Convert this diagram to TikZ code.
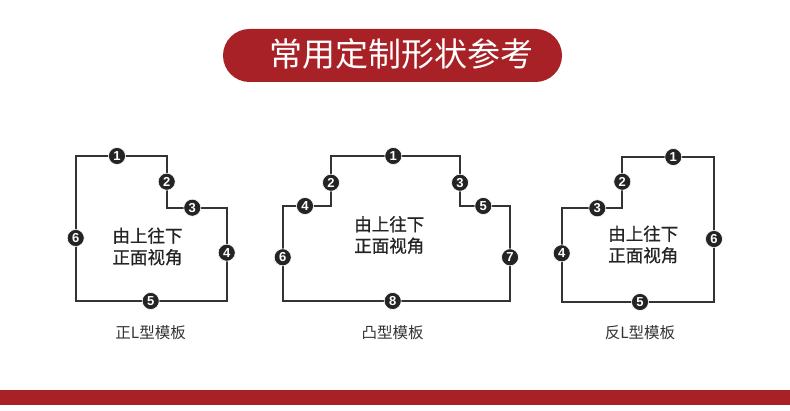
\documentclass[tikz,border=0pt]{standalone}
\usepackage{fontspec}
\newfontfamily\cjk{Noto Sans CJK SC}
\newfontfamily\cjkb[FakeBold=0.8]{Noto Sans CJK SC}
\newfontfamily\numf{Liberation Sans}
\definecolor{brand}{HTML}{A82126}
\definecolor{ink}{HTML}{242424}
\definecolor{edge}{HTML}{333333}
\begin{document}
\begin{tikzpicture}[x=1pt,y=-1pt,
  outline/.style={draw=edge,line width=2pt,line join=miter},
  num/.style={circle,fill=ink,draw=white,line width=0.6pt,minimum size=17pt,inner sep=0pt,text=white,font=\numf\bfseries\fontsize{13}{13}\selectfont},
  inner/.style={align=center,text=ink,font=\cjkb\fontsize{17.5}{21.5}\selectfont},
  caption/.style={text=edge,font=\cjk\fontsize{15.5}{16}\selectfont}]
\useasboundingbox (0,0) rectangle (790,411);
\fill[white] (0,0) rectangle (790,411);
% title
\node[fill=brand,rounded corners=26.5pt,minimum width=339pt,minimum height=53pt,inner sep=0pt] (title) at (392.5,55.5) {};
\node[text=white,font=\cjk\fontsize{33}{33}\selectfont,anchor=center] (titletext) at (401.5,54) {常用定制形状参考};
% bottom bar
\fill[brand] (0,390) rectangle (790,405);

% Shape 1: 正L
\coordinate (a1) at (75.7,156);
\coordinate (a2) at (166.7,156);
\coordinate (a3) at (166.7,207.7);
\coordinate (a4) at (226.7,207.7);
\coordinate (a5) at (226.7,301);
\coordinate (a6) at (75.7,301);
\draw[outline] (a1) -- (a2) -- (a3) -- (a4) -- (a5) -- (a6) -- cycle;
\node[num] (s1n1) at (117,156) {1};
\node[num] (s1n2) at (166.7,181.7) {2};
\node[num] (s1n3) at (192.3,207.7) {3};
\node[num] (s1n4) at (226.7,252.7) {4};
\node[num] (s1n5) at (150.7,301) {5};
\node[num] (s1n6) at (75.7,238) {6};
\node[inner] (s1t) at (147.5,246.5) {由上往下\\正面视角};
\node[caption] (s1c) at (150.7,332.7) {正L型模板};

% Shape 2: 凸
\coordinate (b1) at (282.7,206);
\coordinate (b2) at (331,206);
\coordinate (b3) at (331,156);
\coordinate (b4) at (460,156);
\coordinate (b5) at (460,206);
\coordinate (b6) at (510,206);
\coordinate (b7) at (510,301);
\coordinate (b8) at (282.7,301);
\draw[outline] (b1) -- (b2) -- (b3) -- (b4) -- (b5) -- (b6) -- (b7) -- (b8) -- cycle;
\node[num] (s2n1) at (393.3,156) {1};
\node[num] (s2n2) at (331,182.7) {2};
\node[num] (s2n3) at (460,182.7) {3};
\node[num] (s2n4) at (305,206) {4};
\node[num] (s2n5) at (483.3,206) {5};
\node[num] (s2n6) at (282.7,257.3) {6};
\node[num] (s2n7) at (510,257.3) {7};
\node[num] (s2n8) at (392.7,301) {8};
\node[inner] (s2t) at (389.3,235) {由上往下\\正面视角};
\node[caption] (s2c) at (392.7,332.7) {凸型模板};

% Shape 3: 反L
\coordinate (c1) at (622.3,157);
\coordinate (c2) at (714,157);
\coordinate (c3) at (714,302);
\coordinate (c4) at (561.7,302);
\coordinate (c5) at (561.7,208.3);
\coordinate (c6) at (622.3,208.3);
\draw[outline] (c1) -- (c2) -- (c3) -- (c4) -- (c5) -- (c6) -- cycle;
\node[num] (s3n1) at (673.3,157) {1};
\node[num] (s3n2) at (622.3,181.7) {2};
\node[num] (s3n3) at (597.3,208.3) {3};
\node[num] (s3n4) at (561.7,253.3) {4};
\node[num] (s3n5) at (640,302) {5};
\node[num] (s3n6) at (714,239) {6};
\node[inner] (s3t) at (643.3,244.5) {由上往下\\正面视角};
\node[caption] (s3c) at (640,332.7) {反L型模板};
\end{tikzpicture}
\end{document}
